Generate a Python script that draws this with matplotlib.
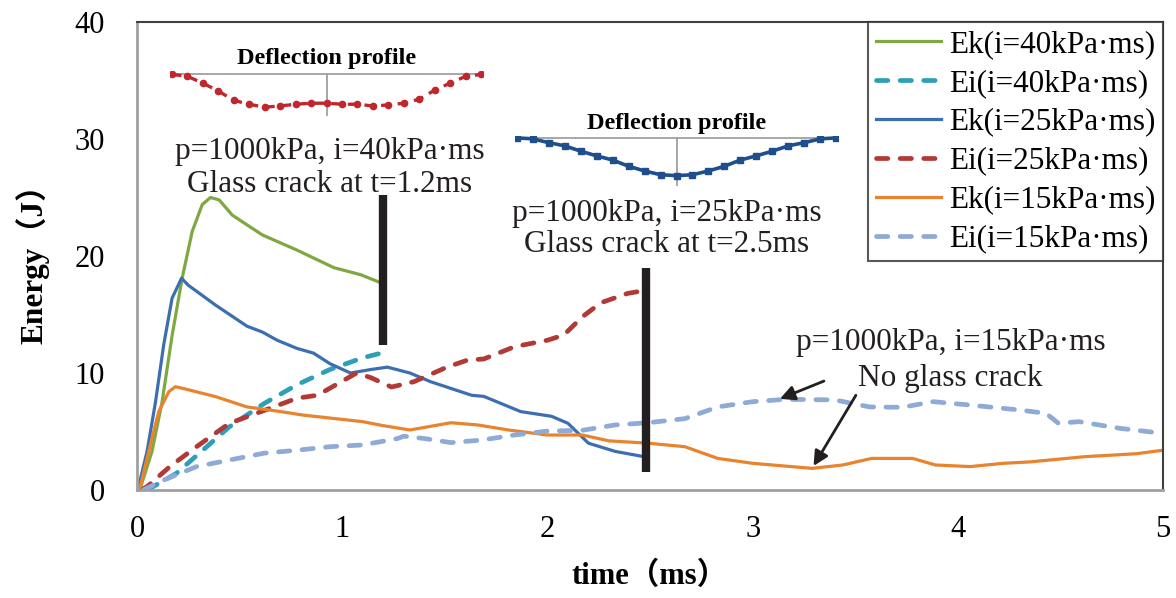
import numpy as np
import matplotlib.pyplot as plt

plt.rcParams['font.family'] = ['Liberation Serif', 'Noto Sans CJK SC']

# ---- data ----
t_ek40 = [0.0, 0.016, 0.073, 0.122, 0.171, 0.22, 0.269, 0.318, 0.358, 0.40, 0.464,
          0.55, 0.611, 0.65, 0.78, 0.96, 1.09, 1.19]
ek40 = [0.0, 0.15, 3.3, 7.5, 13.2, 18.1, 22.1, 24.4, 25.0, 24.8, 23.5,
        22.5, 21.8, 21.5, 20.5, 19.0, 18.4, 17.7]

t_ei40 = [0.05, 0.19, 0.34, 0.45, 0.62, 0.78, 0.94, 1.10, 1.19]
ei40 = [0.0, 1.4, 3.7, 5.4, 7.4, 9.0, 10.3, 11.3, 11.7]

t_ek25 = [0.0, 0.008, 0.049, 0.09, 0.13, 0.171, 0.217, 0.25, 0.383, 0.536, 0.611, 0.683,
          0.78, 0.86, 0.94, 1.04, 1.14, 1.22, 1.33, 1.43, 1.63, 1.69, 1.87, 2.02, 2.10,
          2.20, 2.33, 2.47]
ek25 = [0.0, 0.3, 3.3, 7.5, 12.4, 16.4, 18.1, 17.5, 15.8, 14.0, 13.5, 12.8,
        12.1, 11.7, 10.8, 10.0, 10.3, 10.5, 10.0, 9.26, 8.1, 8.0, 6.7, 6.3, 5.7,
        4.0, 3.3, 2.85]

t_ei25 = [0.02, 0.05, 0.16, 0.29, 0.45, 0.62, 0.78, 0.88, 0.98, 1.07, 1.14, 1.24, 1.35,
          1.51, 1.61, 1.69, 1.84, 2.0, 2.08, 2.17, 2.26, 2.39, 2.49]
ei25 = [0.0, 0.3, 2.0, 3.7, 5.7, 6.8, 7.85, 8.1, 9.1, 10.0, 9.6, 8.8, 9.26,
        10.5, 11.1, 11.2, 12.25, 12.8, 13.25, 14.8, 16.0, 16.8, 17.1]

t_ek15 = [0.0, 0.016, 0.057, 0.106, 0.155, 0.187, 0.236, 0.383, 0.536, 0.70, 0.81, 0.94,
          1.10, 1.20, 1.33, 1.53, 1.66, 1.81, 2.0, 2.17, 2.30, 2.49, 2.67, 2.83, 3.0,
          3.29, 3.44, 3.58, 3.78, 3.89, 4.06, 4.22, 4.35, 4.62, 4.87, 5.0]
ek15 = [0.0, 0.3, 3.3, 6.7, 8.4, 8.83, 8.63, 7.98, 7.1, 6.7, 6.4, 6.15,
        5.84, 5.5, 5.13, 5.75, 5.56, 5.13, 4.7, 4.7, 4.2, 4.0, 3.7, 2.7, 2.28,
        1.85, 2.14, 2.7, 2.7, 2.14, 2.0, 2.28, 2.4, 2.85, 3.1, 3.4]

t_ei15 = [0.03, 0.13, 0.29, 0.45, 0.62, 0.78, 0.94, 1.10, 1.27, 1.30, 1.40, 1.53, 1.68,
          1.84, 2.0, 2.17, 2.33, 2.49, 2.67, 2.83, 3.0, 3.16, 3.40, 3.57, 3.73, 3.88,
          4.06, 4.30, 4.43, 4.49, 4.59, 4.79, 5.0]
ei15 = [0.0, 0.85, 2.0, 2.56, 3.15, 3.4, 3.7, 3.85, 4.4, 4.6, 4.4, 4.05, 4.27,
        4.7, 5.04, 5.1, 5.56, 5.75, 6.1, 7.1, 7.55, 7.75, 7.7, 7.1, 7.07, 7.55,
        7.26, 6.84, 6.55, 5.7, 5.84, 5.27, 4.84]

# crack markers: (time, bottom, top)
crack_t = [1.2, 2.48]
crack_lo = [12.4, 1.5]
crack_hi = [25.2, 19.0]

# deflection profiles (arbitrary units, 21 nodes across the panel)
prof40 = [0, -1, -5, -9.5, -15, -17.3, -19, -18.3, -17.3, -16.7, -16.7,
          -17.3, -17.3, -18.3, -17.7, -16.7, -14.3, -9, -5, -1, 0]
prof25 = [0, -1, -5, -8.4, -14, -19, -23.4, -30, -35, -39, -40,
          -39, -35, -30, -23.4, -19, -14, -8.4, -5, -1, 0]

fig = plt.figure(figsize=(11.76, 5.98), dpi=100)
ax = fig.add_axes([0.1165, 0.1806, 0.8725, 0.7826])

c_green = '#7fa843'
c_teal = '#2f9fb8'
c_blue = '#3d6fb0'
c_red = '#b23a36'
c_orange = '#e8832e'
c_lblue = '#8eaad6'

dash = dict(lw=3.4, ls=(0, (2.4, 2.6)), dash_capstyle='round')
ax.plot(t_ek40, ek40, color=c_green, lw=2.3, label='Ek(i=40kPa·ms)')
ax.plot(t_ei40, ei40, color=c_teal, label='Ei(i=40kPa·ms)', **dash)
ax.plot(t_ek25, ek25, color=c_blue, lw=2.3, label='Ek(i=25kPa·ms)')
ax.plot(t_ei25, ei25, color=c_red, label='Ei(i=25kPa·ms)', **dash)
ax.plot(t_ek15, ek15, color=c_orange, lw=2.3, label='Ek(i=15kPa·ms)')
ax.plot(t_ei15, ei15, color=c_lblue, label='Ei(i=15kPa·ms)', **dash)

for t, lo, hi in zip(crack_t, crack_lo, crack_hi):
    ax.plot([t, t], [lo, hi], color='#231f20', lw=6, solid_capstyle='butt')

ax.set_xlim(0, 5)
ax.set_ylim(0, 40)
ax.set_xticks(range(6))
ax.set_yticks(range(0, 41, 10))
ax.tick_params(length=0, labelsize=22)
ax.tick_params(axis='x', pad=18)
ax.tick_params(axis='y', pad=23)
for s in ['left', 'bottom']:
    ax.spines[s].set_color('#a0a0a0')
    ax.spines[s].set_linewidth(2)
for s in ['top', 'right']:
    ax.spines[s].set_color('#404040')
    ax.spines[s].set_linewidth(1.5)

ax.set_xlabel('time（ms）', fontsize=22, fontweight='bold', labelpad=13)
ax.set_ylabel('Energy（J）', fontsize=22.5, fontweight='bold', labelpad=18)

leg = ax.legend(loc='upper right', fontsize=22.4, frameon=True, fancybox=False,
                borderaxespad=0, handlelength=2.1, labelspacing=0.32,
                borderpad=0.25, handletextpad=0.25)
leg.get_frame().set_edgecolor('#303030')
leg.get_frame().set_linewidth(1.5)

txt = dict(fontsize=22.5, ha='center', va='center', color='#231f20')
ax.text(0.94, 28.9, 'p=1000kPa, i=40kPa·ms', **txt)
ax.text(0.94, 26.1, 'Glass crack at t=1.2ms', **txt)
ax.text(2.58, 23.6, 'p=1000kPa, i=25kPa·ms', **txt)
ax.text(2.58, 21.0, 'Glass crack at t=2.5ms', **txt)
ax.text(3.965, 12.6, 'p=1000kPa, i=15kPa·ms', **txt)
ax.text(3.965, 9.5, 'No glass crack', **txt)

arrow = dict(arrowstyle='-|>', color='#231f20', lw=2, mutation_scale=22)
ax.annotate('', xy=(3.12, 7.7), xytext=(3.36, 9.4), arrowprops=arrow)
ax.annotate('', xy=(3.29, 1.85), xytext=(3.51, 8.3), arrowprops=arrow)

# deflection profile insets
def profile(rect, vals, color, marker, ms, ls, lw):
    ia = fig.add_axes(rect)
    x = np.arange(len(vals))
    ia.axhline(0, color='#a0a0a0', lw=1.3)
    ia.plot([10, 10], [0, min(vals) * 1.25], color='#a0a0a0', lw=1.3)
    ia.plot(x, vals, color=color, marker=marker, ms=ms, ls=ls, lw=lw)
    ia.set_xlim(-0.1, 20.1)
    ia.set_ylim(min(vals) * 1.3, 2)
    ia.axis('off')
    ia.set_title('Deflection profile', fontsize=17.5, fontweight='bold', pad=5)
    return ia

profile([170 / 1176, 1 - 117 / 598, 313 / 1176, 46 / 598], prof40, '#c0272d', 'o', 4.5,
        (0, (3, 2)), 2.4)
profile([515 / 1176, 1 - 187 / 598, 323 / 1176, 51 / 598], prof25, '#1f4e8c', 's', 5,
        '-', 2.6)

fig.savefig('out.png', dpi=100)
